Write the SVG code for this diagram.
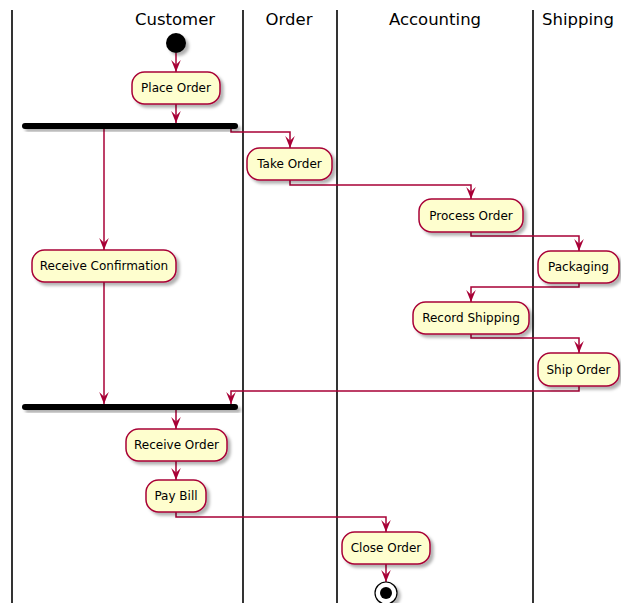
<svg xmlns="http://www.w3.org/2000/svg" width="621" height="603" viewBox="0 0 621 603">
<style>
.lane{stroke:#000;stroke-width:1.6;fill:none}
.title{font-family:"DejaVu Sans",sans-serif;font-size:16.5px;fill:#000;text-anchor:middle}
.act rect{fill:#FEFECE;stroke:#A80036;stroke-width:1.5;filter:url(#sh)}
.act text{font-family:"DejaVu Sans",sans-serif;font-size:12px;fill:#000;text-anchor:middle}
.bar{fill:#000;filter:url(#sh)}
#connectors path{fill:none;stroke:#A80036;stroke-width:1.5;marker-end:url(#ah)}
</style>
<defs>
<filter id="sh" x="-20%" y="-30%" width="150%" height="180%">
<feDropShadow dx="3" dy="3" stdDeviation="1.8" flood-color="#000" flood-opacity="0.3"/>
</filter>
<marker id="ah" markerUnits="userSpaceOnUse" markerWidth="12" markerHeight="10" viewBox="0 0 10 8" refX="10" refY="4" orient="auto">
<path d="M0 0 L10 4 L0 8 L4 4 Z" fill="#A80036"/>
</marker>
</defs>
<g id="lanes">
<line class="lane" x1="12" y1="10" x2="12" y2="603"/>
<line class="lane" x1="243" y1="10" x2="243" y2="603"/>
<line class="lane" x1="337" y1="10" x2="337" y2="603"/>
<line class="lane" x1="533" y1="10" x2="533" y2="603"/>
<text class="title" x="175" y="25">Customer</text>
<text class="title" x="289" y="25">Order</text>
<text class="title" x="435" y="25">Accounting</text>
<text class="title" x="578" y="25">Shipping</text>
</g>
<g id="connectors">
<path d="M176 53 V72"/>
<path d="M176 104 V123"/>
<path d="M104 129 V250"/>
<path d="M231 129 V132 H290 V148"/>
<path d="M290 180 V185 H471 V199"/>
<path d="M471 232 V236 H579 V251"/>
<path d="M579 283 V287 H471 V302"/>
<path d="M471 334 V338 H579 V353"/>
<path d="M579 386 V391 H231 V404"/>
<path d="M104 282 V404"/>
<path d="M176 410 V429"/>
<path d="M176 461 V480"/>
<path d="M176 512 V517 H386 V532"/>
<path d="M386 564 V582"/>
</g>
<g id="start"><circle cx="176" cy="43" r="10" fill="#000" filter="url(#sh)"/></g>
<g id="placeOrder" class="act"><rect x="132" y="72" width="88" height="32" rx="12.5"/><text x="176" y="92">Place Order</text></g>
<g id="fork"><rect class="bar" x="22" y="123" width="216" height="6" rx="3"/></g>
<g id="takeOrder" class="act"><rect x="247" y="148" width="85" height="32" rx="12.5"/><text x="289.5" y="168">Take Order</text></g>
<g id="processOrder" class="act"><rect x="419" y="199" width="104" height="33" rx="12.5"/><text x="471" y="220">Process Order</text></g>
<g id="receiveConfirmation" class="act"><rect x="32" y="250" width="144" height="32" rx="12.5"/><text x="104" y="270">Receive Confirmation</text></g>
<g id="packaging" class="act"><rect x="538" y="251" width="81" height="32" rx="12.5"/><text x="578.5" y="271">Packaging</text></g>
<g id="recordShipping" class="act"><rect x="413" y="302" width="116" height="32" rx="12.5"/><text x="471" y="322">Record Shipping</text></g>
<g id="shipOrder" class="act"><rect x="538" y="353" width="81" height="33" rx="12.5"/><text x="578.5" y="374">Ship Order</text></g>
<g id="join"><rect class="bar" x="22" y="404" width="216" height="6" rx="3"/></g>
<g id="receiveOrder" class="act"><rect x="126" y="429" width="101" height="32" rx="12.5"/><text x="176.5" y="449">Receive Order</text></g>
<g id="payBill" class="act"><rect x="146" y="480" width="60" height="32" rx="12.5"/><text x="176" y="500">Pay Bill</text></g>
<g id="closeOrder" class="act"><rect x="342" y="532" width="88" height="32" rx="12.5"/><text x="386" y="552">Close Order</text></g>
<g id="end"><circle cx="386" cy="593" r="11" fill="#fff" stroke="#000" stroke-width="1.2" filter="url(#sh)"/><circle cx="386" cy="593" r="6" fill="#000"/></g>
</svg>
